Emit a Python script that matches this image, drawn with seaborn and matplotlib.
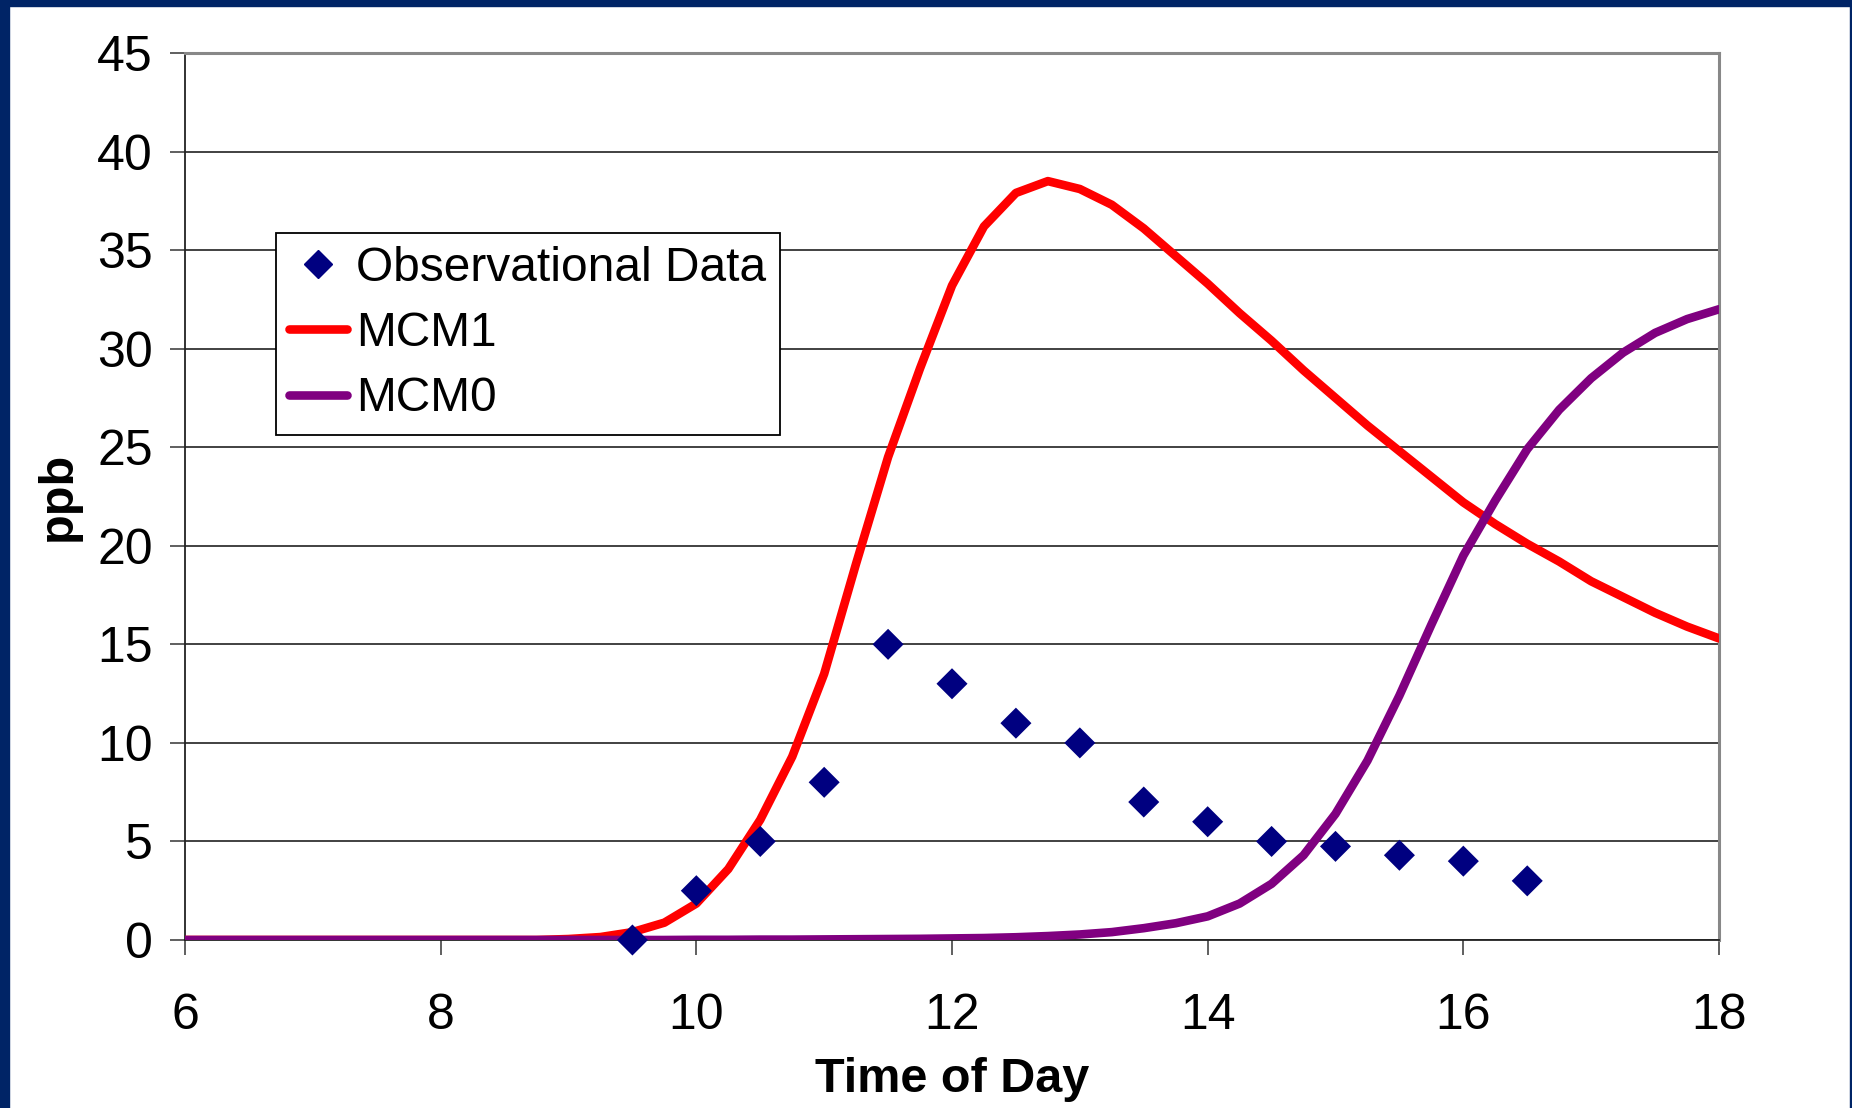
import numpy as np
import pandas as pd
import matplotlib
matplotlib.use('Agg')
import matplotlib.pyplot as plt
from matplotlib.patches import Rectangle
from matplotlib.lines import Line2D
import seaborn as sns

# data
hours = [6.0, 6.25, 6.5, 6.75, 7.0, 7.25, 7.5, 7.75, 8.0, 8.25, 8.5, 8.75,
         9.0, 9.25, 9.5, 9.75, 10.0, 10.25, 10.5, 10.75, 11.0, 11.25, 11.5, 11.75,
         12.0, 12.25, 12.5, 12.75, 13.0, 13.25, 13.5, 13.75, 14.0, 14.25, 14.5, 14.75,
         15.0, 15.25, 15.5, 15.75, 16.0, 16.25, 16.5, 16.75, 17.0, 17.25, 17.5, 17.75, 18.0]
mcm1 = [0, 0, 0, 0, 0, 0, 0, 0, 0, 0, 0, 0,
        0.05, 0.15, 0.4, 0.88, 1.85, 3.6, 6.1, 9.3, 13.5, 19.1, 24.5, 29.0,
        33.2, 36.2, 37.9, 38.5, 38.1, 37.3, 36.1, 34.7, 33.3, 31.8, 30.4, 28.9,
        27.5, 26.1, 24.8, 23.5, 22.2, 21.1, 20.1, 19.2, 18.2, 17.4, 16.6, 15.9, 15.3]
mcm0 = [0, 0, 0, 0, 0, 0, 0, 0, 0, 0, 0, 0,
        0, 0, 0, 0, 0.01, 0.01, 0.02, 0.02, 0.03, 0.04, 0.05, 0.06,
        0.08, 0.1, 0.14, 0.2, 0.28, 0.4, 0.6, 0.85, 1.2, 1.85, 2.85, 4.3,
        6.4, 9.1, 12.4, 16.0, 19.5, 22.3, 24.9, 26.9, 28.5, 29.8, 30.8, 31.5, 32.0]
obs_hours = [9.5, 10, 10.5, 11, 11.5, 12, 12.5, 13, 13.5, 14, 14.5, 15, 15.5, 16, 16.5]
obs_ppb = [0, 2.5, 5, 8, 15, 13, 11, 10, 7, 6, 5, 4.75, 4.3, 4, 3]

sns.set_style('white')
plt.rcParams['font.family'] = ['Liberation Sans', 'DejaVu Sans']
plt.rcParams['text.color'] = 'black'
plt.rcParams['axes.labelcolor'] = 'black'
plt.rcParams['xtick.color'] = 'black'
plt.rcParams['ytick.color'] = 'black'

fig = plt.figure(figsize=(18.52, 11.08), dpi=100)
fig.patch.set_facecolor('white')
navy = '#002466'
# slide border
fig.add_artist(Rectangle((0, 0), 8.5 / 1852, 1, transform=fig.transFigure, color=navy, zorder=0))
fig.add_artist(Rectangle((0, 1 - 6 / 1108), 1, 6 / 1108, transform=fig.transFigure, color=navy, zorder=0))
fig.add_artist(Rectangle((1 - 2 / 1852, 0), 2 / 1852, 1, transform=fig.transFigure, color=navy, zorder=0))

ax = fig.add_axes([185 / 1852, 168 / 1108, 1534 / 1852, 887 / 1108])

model = pd.DataFrame({'hour': hours, 'MCM1': mcm1, 'MCM0': mcm0})
obs = pd.DataFrame({'hour': obs_hours, 'ppb': obs_ppb})

lw = 6.2
sns.lineplot(data=model, x='hour', y='MCM1', ax=ax, color='#FF0000', linewidth=lw, zorder=3)
sns.lineplot(data=model, x='hour', y='MCM0', ax=ax, color='#800080', linewidth=lw, zorder=4)
sns.scatterplot(data=obs, x='hour', y='ppb', ax=ax, color='#000080', marker='D', s=250,
                edgecolor='none', zorder=5, clip_on=False)

ax.set_xlim(6, 18)
ax.set_ylim(0, 45)
ax.set_xticks([6, 8, 10, 12, 14, 16, 18])
ax.set_yticks(np.arange(0, 46, 5))
ax.yaxis.grid(True, color='#333333', linewidth=1.3)
ax.set_axisbelow(True)

for side in ['top', 'right']:
    ax.spines[side].set_color('#888888')
    ax.spines[side].set_linewidth(2.2)
for side in ['left', 'bottom']:
    ax.spines[side].set_color('#222222')
    ax.spines[side].set_linewidth(1.3)

ax.tick_params(axis='both', direction='out', length=11, width=1.2, color='#444444',
               labelsize=36, labelcolor='black')
ax.tick_params(axis='y', pad=12, left=True)
ax.tick_params(axis='x', pad=27, bottom=True)

ax.set_xlabel('Time of Day', fontsize=35, fontweight='bold', labelpad=13)
ax.set_ylabel('ppb', fontsize=35, fontweight='bold', labelpad=12)

handles = [
    Line2D([], [], linestyle='none', marker='D', markersize=14, color='#000080'),
    Line2D([], [], color='#FF0000', linewidth=lw),
    Line2D([], [], color='#800080', linewidth=lw),
]
leg = ax.legend(handles, ['Observational Data', 'MCM1', 'MCM0'],
                loc='upper left', bbox_to_anchor=(0.0593, 0.7974), borderaxespad=0,
                fontsize=34.5, frameon=True, fancybox=False, shadow=False,
                handlelength=1.2, handletextpad=0.2, borderpad=0.28, labelspacing=0.42)
leg.get_frame().set_edgecolor('black')
leg.get_frame().set_linewidth(1.3)
leg.get_frame().set_facecolor('white')
leg.get_frame().set_alpha(1)

fig.savefig('out.png', dpi=100, facecolor=fig.get_facecolor())
